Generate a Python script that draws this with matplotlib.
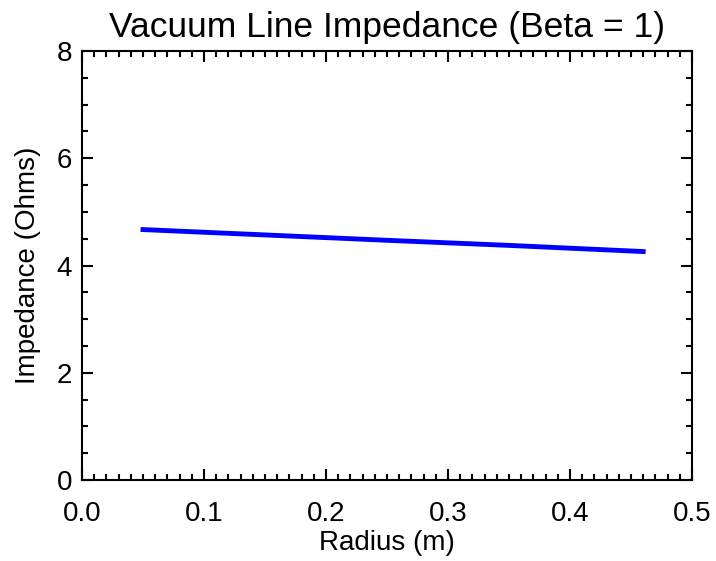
import matplotlib
matplotlib.use("Agg")
import matplotlib.pyplot as plt
from matplotlib.ticker import MultipleLocator, FormatStrFormatter

radius = [0.05, 0.15, 0.25, 0.35, 0.46]
impedance = [4.67, 4.57, 4.47, 4.375, 4.26]

title = "Vacuum Line Impedance (Beta = 1)"
xlabel = "Radius (m)"
ylabel = "Impedance (Ohms)"

plt.rcParams['font.family'] = ['Liberation Sans', 'DejaVu Sans']

fig = plt.figure(figsize=(7.16, 5.61), dpi=100)
ax = fig.add_axes([82/716, 1-480/561, 610/716, 429/561])
ax.plot(radius, impedance, color='#0000ff', lw=3.5)
ax.set_xlim(0, 0.5)
ax.set_ylim(0, 8)
ax.xaxis.set_major_locator(MultipleLocator(0.1))
ax.xaxis.set_minor_locator(MultipleLocator(0.01))
ax.yaxis.set_major_locator(MultipleLocator(2))
ax.yaxis.set_minor_locator(MultipleLocator(0.5))
ax.xaxis.set_major_formatter(FormatStrFormatter('%.1f'))
ax.yaxis.set_major_formatter(FormatStrFormatter('%d'))
ax.tick_params(which='both', direction='in', top=True, right=True, labelsize=20, width=1.5)
ax.tick_params(axis='x', which='major', pad=15)
ax.tick_params(axis='y', which='major', pad=7)
ax.tick_params(which='major', length=8)
ax.tick_params(which='minor', length=4)
for s in ax.spines.values():
    s.set_linewidth(1.5)
ax.set_title(title, fontsize=25.5, pad=10)
ax.set_xlabel(xlabel, fontsize=20, labelpad=2)
ax.set_ylabel(ylabel, fontsize=20, labelpad=11)
fig.savefig("out.png", dpi=100)
